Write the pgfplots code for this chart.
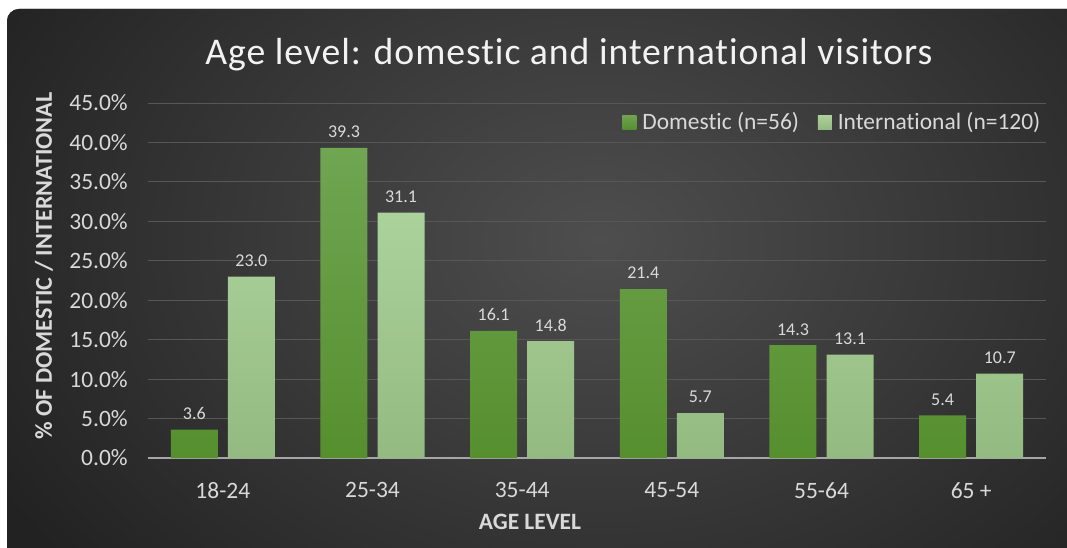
\documentclass[border=0pt]{standalone}
\usepackage{pgfplots}
\pgfplotsset{compat=1.18}
\usepackage{fontspec}
\setmainfont[Ligatures=NoCommon]{Carlito}
\newfontfamily\titlefont[Ligatures=NoCommon, LetterSpace=2.5]{Carlito}
\definecolor{bgin}{HTML}{4E4E4E}
\definecolor{bgout}{HTML}{222222}
\definecolor{gridc}{HTML}{575757}
\definecolor{axisc}{HTML}{A6A6A6}
\definecolor{txt}{HTML}{D9D9D9}
\definecolor{titlec}{HTML}{F2F2F2}
\definecolor{dtop}{HTML}{70A552}
\definecolor{dbot}{HTML}{568F2E}
\definecolor{itop}{HTML}{ACD29C}
\definecolor{ibot}{HTML}{93BA80}
\newcommand\tickfont{\fontsize{17.6}{20}\selectfont}
\pgfplotsset{sqlegend/.style={legend image code/.code={\path[##1] (0pt,-5.25pt) rectangle (10.5pt,5.25pt); \path (10.5pt,0pt) -- (13pt,0pt);}}}
\begin{document}
\begin{tikzpicture}[x=1pt,y=1pt]
\useasboundingbox (0,0) rectangle (800.25,410.25);
\fill[white] (0,0) rectangle (800.25,410.25);
\fill[bgout,rounded corners=9pt] (5.25,-20) rectangle (830,403.5);
\begin{scope}
\clip[rounded corners=9pt] (5.25,-20) rectangle (830,403.5);
\shade[inner color=bgin, outer color=bgout] (450,230) ellipse (520 and 380);
\end{scope}
\node[anchor=base, text=titlec, font=\titlefont\fontsize{28.3}{33}\selectfont] at (426.75,361.5) {Age level: domestic and international visitors};
\node[rotate=90, font=\bfseries\fontsize{18.1}{20}\selectfont, text=txt] at (33,210.75) {\% OF DOMESTIC / INTERNATIONAL};
\node[font=\bfseries\tickfont, text=txt] at (397.5,18.75) {AGE LEVEL};
\begin{axis}[
  at={(111pt,66.75pt)}, anchor=south west, scale only axis,
  width=673.5pt, height=266.25pt,
  xmin=-0.5, xmax=5.5, ymin=0, ymax=45,
  ybar, bar width=35.25pt,
  xtick={0,...,5},
  xticklabels={18-24,25-34,35-44,45-54,55-64,65 +},
  ytick={0,5,...,45},
  yticklabel={\pgfmathprintnumber{\tick}\%},
  /pgf/number format/.cd, fixed, fixed zerofill, precision=1, assume math mode=true,
  /pgfplots/.cd,
  ymajorgrids, grid style={gridc, line width=0.75pt},
  major tick length=0pt,
  axis x line=bottom, axis y line=left,
  x axis line style={-, draw=axisc, line width=2pt},
  y axis line style={draw=none},
  yticklabel style={text=txt, font=\tickfont, inner sep=0pt, xshift=-15pt},
  xticklabel style={text=txt, font=\tickfont, inner sep=0pt, yshift=-18pt},
  nodes near coords,
  nodes near coords style={text=txt, font=\fontsize{13.5}{16}\selectfont, yshift=4pt},
  legend columns=-1,
  legend style={draw=none, fill=none, at={(1,1)}, anchor=north east, xshift=1pt, yshift=-3pt,
    font=\tickfont, text=txt, nodes={inner sep=2pt},
    /tikz/every even column/.append style={column sep=12pt}},
]
\addplot[bar shift=-21.4pt, draw=none, top color=dtop, bottom color=dbot, sqlegend]
  coordinates {(0,3.6) (1,39.3) (2,16.1) (3,21.4) (4,14.3) (5,5.4)};
\addplot[bar shift=21.4pt, draw=none, top color=itop, bottom color=ibot, sqlegend]
  coordinates {(0,23.0) (1,31.1) (2,14.8) (3,5.7) (4,13.1) (5,10.7)};
\legend{Domestic (n=56), International (n=120)}
\end{axis}
\end{tikzpicture}
\end{document}
